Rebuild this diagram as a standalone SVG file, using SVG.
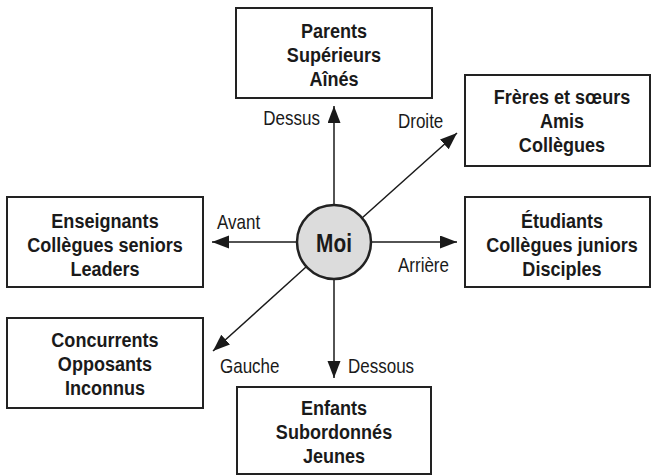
<svg xmlns="http://www.w3.org/2000/svg" width="652" height="476" viewBox="0 0 652 476">
  <style>
    .box { fill: #ffffff; stroke: #222222; stroke-width: 2; }
    .name { font-family: "Liberation Sans", Arial, sans-serif; font-weight: bold; font-size: 21px; fill: #1a1a1a; text-anchor: middle; }
    .dir { font-family: "Liberation Sans", Arial, sans-serif; font-size: 20px; fill: #1a1a1a; }
    .link { stroke: #1a1a1a; stroke-width: 1.5; fill: none; marker-end: url(#head); }
  </style>
  <defs>
    <marker id="head" markerUnits="userSpaceOnUse" markerWidth="18" markerHeight="14" refX="17" refY="6.5" orient="auto">
      <path d="M0,0 L17,6.5 L0,13 Z" fill="#1a1a1a"/>
    </marker>
  </defs>
  <rect width="652" height="476" fill="#ffffff"/>

  <!-- connectors from the centre outwards; labels are narrowed with scale() -->
  <g id="connectors">
    <line class="link" x1="334" y1="205" x2="334" y2="106"/>
    <line class="link" x1="362" y1="218" x2="457" y2="133"/>
    <line class="link" x1="371" y1="242" x2="457" y2="242"/>
    <line class="link" x1="334" y1="279" x2="334" y2="378"/>
    <line class="link" x1="306" y1="267" x2="213" y2="351"/>
    <line class="link" x1="297" y1="242" x2="212" y2="242"/>
    <text class="dir" transform="translate(320,125) scale(0.85,1)" text-anchor="end">Dessus</text>
    <text class="dir" transform="translate(398,128) scale(0.85,1)">Droite</text>
    <text class="dir" transform="translate(398,272) scale(0.85,1)">Arrière</text>
    <text class="dir" transform="translate(348,373) scale(0.85,1)">Dessous</text>
    <text class="dir" transform="translate(220,373) scale(0.85,1)">Gauche</text>
    <text class="dir" transform="translate(217,229) scale(0.85,1)">Avant</text>
  </g>

  <g id="moi">
    <circle cx="334" cy="242" r="37" fill="#dcdcdc" stroke="#222222" stroke-width="2.5"/>
    <text class="name" transform="translate(334,252) scale(0.8,1)" style="font-size:26px">Moi</text>
  </g>

  <g id="dessus">
    <rect class="box" x="236" y="8" width="196" height="90"/>
    <text class="name" transform="translate(334,38) scale(0.86,1)">Parents</text>
    <text class="name" transform="translate(334,62) scale(0.86,1)">Supérieurs</text>
    <text class="name" transform="translate(334,86) scale(0.86,1)">Aînés</text>
  </g>

  <g id="droite">
    <rect class="box" x="465" y="75" width="185" height="91"/>
    <text class="name" transform="translate(562,104) scale(0.86,1)">Frères et sœurs</text>
    <text class="name" transform="translate(562,128) scale(0.86,1)">Amis</text>
    <text class="name" transform="translate(562,152) scale(0.86,1)">Collègues</text>
  </g>

  <g id="arriere">
    <rect class="box" x="465" y="197" width="185" height="90"/>
    <text class="name" transform="translate(562,228) scale(0.86,1)">Étudiants</text>
    <text class="name" transform="translate(562,252) scale(0.86,1)">Collègues juniors</text>
    <text class="name" transform="translate(562,276) scale(0.86,1)">Disciples</text>
  </g>

  <g id="avant">
    <rect class="box" x="7" y="197" width="196" height="90"/>
    <text class="name" transform="translate(105,228) scale(0.86,1)">Enseignants</text>
    <text class="name" transform="translate(105,252) scale(0.86,1)">Collègues seniors</text>
    <text class="name" transform="translate(105,276) scale(0.86,1)">Leaders</text>
  </g>

  <g id="gauche">
    <rect class="box" x="7" y="318" width="196" height="90"/>
    <text class="name" transform="translate(105,347) scale(0.86,1)">Concurrents</text>
    <text class="name" transform="translate(105,371) scale(0.86,1)">Opposants</text>
    <text class="name" transform="translate(105,395) scale(0.86,1)">Inconnus</text>
  </g>

  <g id="dessous">
    <rect class="box" x="237" y="387" width="194" height="87"/>
    <text class="name" transform="translate(334,415) scale(0.86,1)">Enfants</text>
    <text class="name" transform="translate(334,439) scale(0.86,1)">Subordonnés</text>
    <text class="name" transform="translate(334,463) scale(0.86,1)">Jeunes</text>
  </g>
</svg>
